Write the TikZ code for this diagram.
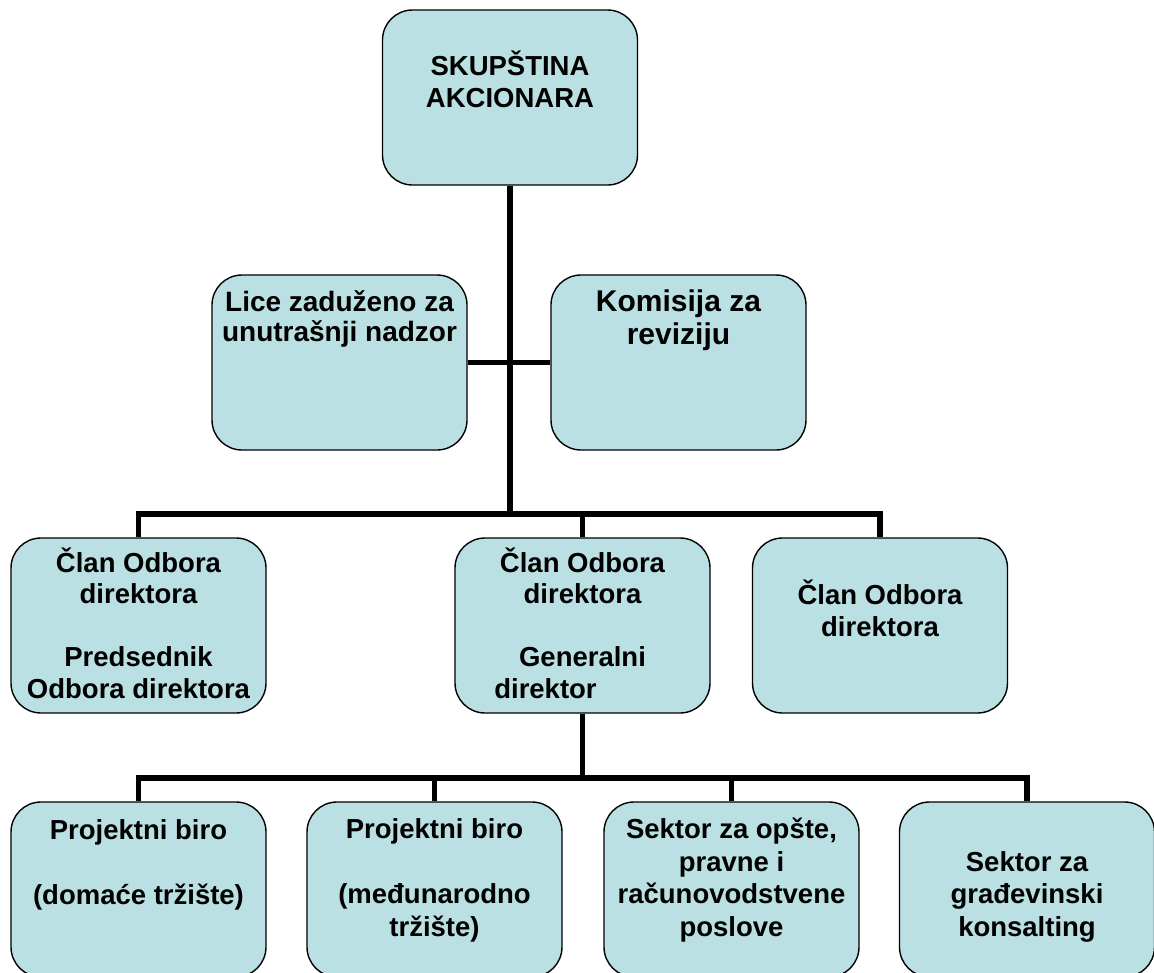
\documentclass[tikz,border=0pt]{standalone}
\usepackage{fontspec}
\setmainfont{Liberation Sans}
\usetikzlibrary{positioning, calc}
\definecolor{boxfill}{RGB}{187,224,227}

\begin{document}
\begin{tikzpicture}[x=1pt, y=-1pt,
        orgbox/.style={rectangle, rounded corners=30pt, draw, line width=1.4pt, fill=boxfill, minimum width=255pt, minimum height=175pt, inner sep=0pt},
        orgtext/.style={anchor=base, align=center, inner sep=0pt, font=\bfseries\fontsize{27.5}{31.5}\selectfont},
        lowtext/.style={orgtext, font=\bfseries\fontsize{27.5}{32.5}\selectfont},
        link/.style={line width=5.5pt}]
        \useasboundingbox (0,0) rectangle (1154,972);
        % boxes
        \node[orgbox] (skup) at (510,97.5) {};
        \node[orgbox] (lice) at (339.5,362.5) {};
        \node[orgbox] (komisija) at (678.5,362.5) {};
        \node[orgbox] (clan1) at (138.5,625.5) {};
        \node[orgbox] (clan2) at (582.5,625.5) {};
        \node[orgbox] (clan3) at (880,625.5) {};
        \node[orgbox] (biroA) at (138.5,889.5) {};
        \node[orgbox] (biroB) at (434.5,889.5) {};
        \node[orgbox] (sektorA) at (731.5,889.5) {};
        \node[orgbox] (sektorB) at (1027,889.5) {};
        % texts (placed by the baseline of their last line)
        \node[orgtext] (skupTxt) at ($(skup.north)+(0,98)$) {SKUPŠTINA\\AKCIONARA};
        \node[orgtext, font=\bfseries\fontsize{28}{30}\selectfont] (liceTxt) at ($(lice.north)+(0,67)$) {Lice zaduženo za\\unutrašnji nadzor};
        \node[orgtext, font=\bfseries\fontsize{30}{33}\selectfont] (komisijaTxt) at ($(komisija.north)+(0,70)$) {Komisija za\\reviziju};
        \node[orgtext] (clan1Txt) at ($(clan1.north)+(0,161)$) {Član Odbora\\direktora\\[31.5pt]Predsednik\\Odbora direktora};
        \node[orgtext] (clan2Txt) at ($(clan2.north)+(0,161)$) {Član Odbora\\direktora\\[31.5pt]Generalni\\direktor\hspace*{74pt}};
        \node[orgtext] (clan3Txt) at ($(clan3.north)+(0,99)$) {Član Odbora\\direktora};
        \node[lowtext] (biroATxt) at ($(biroA.north)+(0,103)$) {Projektni biro\\[32.5pt](domaće tržište)};
        \node[lowtext] (biroBTxt) at ($(biroB.north)+(0,135)$) {Projektni biro\\[32.5pt](međunarodno\\tržište)};
        \node[lowtext] (sektorATxt) at ($(sektorA.north)+(0,135)$) {Sektor za opšte,\\pravne i\\računovodstvene\\poslove};
        \node[lowtext] (sektorBTxt) at ($(sektorB.north)+(0,135)$) {Sektor za\\građevinski\\konsalting};
        % connectors
        \coordinate (bar1) at (510,514);
        \coordinate (bar2) at (582.5,778);
        \draw[link] (skup) -- (bar1);
        \draw[link] (lice) -- (komisija);
        \draw[link] (clan1) |- (bar1) -| (clan3);
        \draw[link] (clan2.north) -- (clan2.north |- bar1);
        \draw[link] (clan2) -- (bar2);
        \draw[link] (biroA) |- (bar2) -| (sektorB);
        \foreach \n in {biroB, sektorA}
            \draw[link] (\n.north) -- (\n.north |- bar2);
    \end{tikzpicture}
\end{document}
